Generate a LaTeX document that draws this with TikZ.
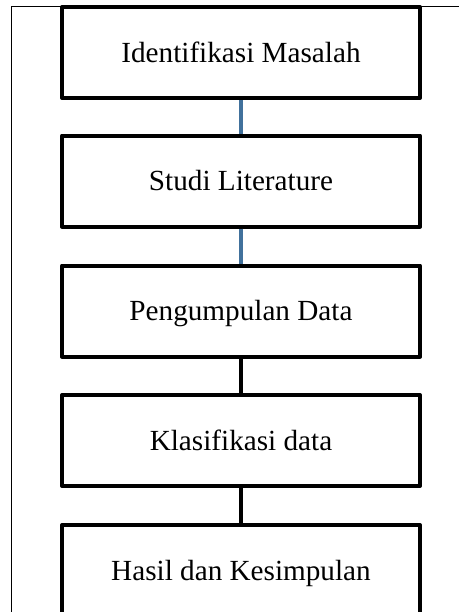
\documentclass[tikz,border=0pt]{standalone}
\usepackage{fontspec}
\setmainfont{Liberation Serif}
\definecolor{linkblue}{RGB}{65,113,156}
\begin{document}
\begin{tikzpicture}[x=0.5pt,y=-0.5pt,
  stage/.style={rectangle,draw,line width=2pt,line join=round,fill=white,
    minimum width=179pt,minimum height=45.5pt,inner sep=0pt,
    text height=9.7pt,text depth=0pt,
    font=\fontsize{14.6}{17}\selectfont}]
\useasboundingbox (0,0) rectangle (459,612);
\draw[line width=0.65pt] (11.5,640) -- (11.5,6.5) -- (480,6.5);
\node[stage] (t1) at (241,52.5) {Identifikasi Masalah};
\node[stage] (t2) at (241,181) {Studi Literature};
\node[stage] (t3) at (241,311) {Pengumpulan Data};
\node[stage] (t4) at (241,440.5) {Klasifikasi data};
\node[stage] (t5) at (241,570.5) {Hasil dan Kesimpulan};
\draw[linkblue,line width=2pt]  (t1) -- (t2);
\draw[linkblue,line width=2pt]  (t2) -- (t3);
\draw[line width=2pt]  (t3) -- (t4);
\draw[line width=2pt]  (t4) -- (t5);
\end{tikzpicture}
\end{document}
